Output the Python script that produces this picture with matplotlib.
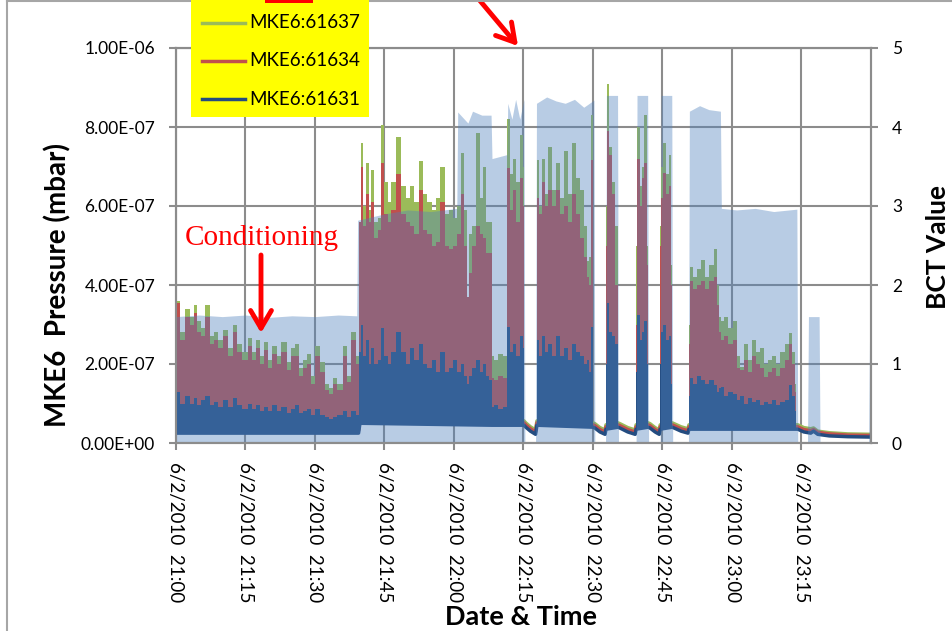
import numpy as np
import matplotlib
matplotlib.use('Agg')
import matplotlib.pyplot as plt
from matplotlib.patches import Rectangle
from matplotlib.lines import Line2D

plt.rcParams['font.family'] = ['Lato', 'DejaVu Sans']

W, H = 953, 631

# minutes after 21:00 ; pressure in units of 1e-7 mbar ; nan = break between bursts
nan = np.nan
t = [0.2, 0.4, 1.5, 2.6, 3.5, 4.1, 5.0, 5.8, 6.9, 7.8,
     8.6, 9.7, 10.8, 11.7, 12.7, 13.8, 14.9, 16.0, 16.8, 17.7,
     18.6, 19.4, 20.3, 21.2, 22.2, 23.3, 24.4, 25.3, 26.1, 27.0,
     27.8, 28.7, 29.6, 30.6, 31.7, 32.6, 33.5, 34.3, 35.4, 36.5,
     37.3, 38.4, 39.4, 39.7, 40.1, 40.8, 41.2, 41.9, 42.3, 43.2,
     44.0, 44.7, 45.3, 46.2, 46.8, 48.1, 49.0, 50.1, 50.9, 51.8,
     52.9, 53.7, 54.8, 55.7, 56.6, 57.4, 58.5, 59.4, 60.2, 61.3,
     61.9, 62.6, 63.0, 63.5, 64.3, 65.2, 66.0, 66.5, 67.3, 68.0,
     68.2, 69.0, 70.0, 71.2, 71.7, 72.5, 73.0, 73.8, 74.7, 75.1,
     nan,
     77.9, 78.6, 79.2, 79.9, 80.7, 81.6, 82.5, 83.3, 84.2, 85.0,
     85.9, 86.8, 87.6, 88.5, 88.9, 89.4, 89.8, 90.0,
     nan,
     92.8, 93.2, 93.9, 94.5, 95.2, 95.4,
     nan,
     99.3, 99.7, 100.4, 100.8, 101.4, 101.9,
     nan,
     104.5, 104.9, 105.3, 106.0, 106.6, 107.1,
     nan,
     110.7, 111.2, 112.0, 112.9, 113.8, 114.6, 115.5, 116.6, 117.0, 117.4,
     117.8, 118.7, 119.6, 120.7, 121.3, 122.2, 123.0, 123.9, 124.8, 125.6,
     126.5, 127.3, 128.2, 129.1, 129.9, 130.8, 131.9, 132.5, 133.4, 133.8]

green = [3.0, 3.6, 2.8, 3.4, 3.2, 3.5, 3.1, 2.9, 3.5, 2.7,
         2.8, 2.6, 2.85, 2.4, 3.0, 2.5, 2.3, 2.65, 2.3, 2.6,
         2.2, 2.55, 2.1, 2.45, 2.2, 2.55, 2.05, 2.4, 2.5, 1.9,
         2.1, 2.25, 1.7, 2.45, 2.05, 1.5, 1.4, 1.65, 1.5, 2.45,
         1.7, 2.8, 2.2, 5.6, 7.6, 6.0, 7.1, 5.9, 6.9, 5.6,
         5.7, 8.05, 6.6, 6.1, 6.6, 7.75, 6.5, 6.2, 6.5, 6.1,
         7.15, 6.3, 6.1, 5.9, 6.2, 7.0, 5.8, 5.9, 5.7, 6.0,
         7.35, 5.9, 3.7, 5.3, 5.5, 7.85, 6.2, 7.0, 5.6, 5.6,
         2.2, 2.1, 2.25, 2.2, 8.2, 6.8, 7.2, 6.6, 7.8, 7.0,
         nan,
         7.16, 6.0, 7.2, 6.3, 7.5, 6.4, 7.1, 6.2, 7.4, 6.3,
         7.6, 6.7, 6.4, 5.5, 4.6, 4.7, 8.3, 6.0,
         nan,
         6.0, 9.1, 7.5, 6.6, 5.5, 4.5,
         nan,
         5.0, 8.0, 6.5, 7.0, 8.3, 5.0,
         nan,
         5.5, 7.0, 7.6, 6.8, 7.3, 4.5,
         nan,
         3.0, 4.46, 4.2, 4.4, 4.63, 4.2, 4.5, 4.9, 4.0, 3.2,
         3.1, 3.2, 2.9, 3.1, 2.2, 1.93, 2.5, 2.1, 2.6, 2.3,
         2.4, 2.0, 2.1, 2.2, 2.0, 2.3, 2.5, 2.78, 2.3, 1.5]

red = [2.9, 3.55, 2.6, 3.2, 3.0, 3.3, 2.8, 2.7, 3.2, 2.5,
       2.6, 2.4, 2.7, 2.2, 2.8, 2.3, 2.1, 2.45, 2.1, 2.4,
       2.0, 2.35, 1.9, 2.25, 2.0, 2.3, 1.85, 2.2, 2.2, 1.7,
       1.9, 2.0, 1.5, 2.2, 1.8, 1.35, 1.25, 1.5, 1.35, 2.2,
       1.55, 2.6, 2.0, 5.6, 7.0, 5.5, 6.3, 5.6, 6.1, 5.2,
       5.4, 7.1, 5.8, 5.6, 5.9, 6.8, 5.8, 5.6, 5.5, 5.3,
       6.4, 5.4, 5.3, 5.0, 5.1, 6.1, 5.0, 4.9, 5.0, 5.3,
       6.3, 5.0, 3.7, 4.3, 5.0, 5.5, 5.3, 5.2, 4.8, 4.8,
       1.65, 1.6, 1.7, 1.65, 6.96, 5.9, 6.4, 5.6, 6.7, 6.0,
       nan,
       6.2, 5.8, 6.6, 6.0, 6.4, 6.0, 6.4, 5.8, 6.0, 5.6,
       6.3, 5.8, 5.2, 4.7, 4.2, 4.0, 7.16, 5.0,
       nan,
       5.0, 7.9, 7.3, 6.3, 4.0, 3.5,
       nan,
       3.0, 7.2, 6.0, 6.7, 7.1, 4.5,
       nan,
       5.0, 6.2, 6.84, 6.3, 6.5, 4.0,
       nan,
       2.5, 4.1, 3.9, 4.0, 4.1, 3.9, 4.1, 4.2, 3.5, 2.8,
       2.6, 2.7, 2.5, 2.6, 1.9, 1.85, 2.1, 1.8, 2.2, 2.0,
       1.9, 1.67, 1.8, 1.9, 1.7, 1.9, 2.1, 2.5, 2.0, 1.3]

blue = [1.0, 1.29, 1.0, 1.2, 1.0, 1.15, 0.95, 1.1, 1.2, 0.95,
        1.05, 0.9, 1.1, 0.9, 1.15, 0.95, 0.85, 1.0, 0.85, 0.95,
        0.8, 0.9, 0.8, 0.95, 0.8, 0.9, 0.75, 0.85, 0.95, 0.75,
        0.8, 0.85, 0.7, 0.85, 0.7, 0.65, 0.6, 0.65, 0.7, 0.8,
        0.65, 0.8, 0.7, 2.3, 3.0, 2.2, 2.6, 2.0, 2.4, 2.0,
        2.1, 2.9, 2.2, 2.0, 2.3, 2.8, 2.3, 2.0, 2.4, 2.1,
        2.5, 2.0, 1.9, 2.1, 1.8, 2.3, 1.8, 1.9, 2.1, 1.8,
        2.0, 1.7, 1.5, 1.7, 1.9, 2.1, 1.8, 2.0, 1.7, 1.6,
        0.9, 0.95, 0.85, 0.9, 2.94, 2.3, 2.5, 2.2, 2.7, 2.4,
        nan,
        2.6, 2.2, 2.7, 2.3, 2.5, 2.2, 2.7, 2.2, 2.4, 2.1,
        2.5, 2.3, 2.2, 2.0, 2.1, 1.8, 2.94, 2.0,
        nan,
        2.0, 3.54, 2.8, 2.7, 2.5, 1.5,
        nan,
        1.8, 3.24, 2.6, 2.8, 3.1, 2.0,
        nan,
        2.0, 2.8, 3.0, 2.6, 2.7, 1.5,
        nan,
        1.2, 1.64, 1.5, 1.7, 1.6, 1.5, 1.6, 1.48, 1.3, 1.4,
        1.42, 1.2, 1.3, 1.25, 1.1, 1.2, 1.0, 1.15, 1.05, 1.1,
        0.95, 1.05, 1.0, 1.1, 0.95, 1.05, 1.1, 1.48, 1.2, 0.8]

# low level of each gauge (between beam bursts the lines sit here)
base_t = [0, 39.4, 39.7, 68.2, 71.2, 75.1, 75.5, 76.5, 77.6, 77.9,
          90.0, 90.4, 91.5, 92.6, 92.8, 95.4, 95.8, 97.5, 99.1, 99.3,
          101.9, 102.3, 103.4, 104.3, 104.5, 107.1, 107.5, 109.0, 110.5, 110.7,
          133.8, 134.2, 135.5, 137.0, 137.6, 138.5, 141.0, 145.0, 150.0]
base_blue = [0.25, 0.25, 0.5, 0.45, 0.45, 0.45, 0.4, 0.3, 0.22, 0.45,
             0.4, 0.38, 0.28, 0.22, 0.35, 0.4, 0.38, 0.28, 0.22, 0.35,
             0.4, 0.38, 0.28, 0.22, 0.35, 0.4, 0.38, 0.3, 0.25, 0.35,
             0.35, 0.35, 0.28, 0.25, 0.3, 0.22, 0.18, 0.16, 0.15]
base_red = [0.31, 0.31, 0.56, 0.51, 0.51, 0.51, 0.46, 0.36, 0.28, 0.51,
            0.46, 0.44, 0.34, 0.28, 0.41, 0.46, 0.44, 0.34, 0.28, 0.41,
            0.46, 0.44, 0.34, 0.28, 0.41, 0.46, 0.44, 0.36, 0.31, 0.41,
            0.41, 0.41, 0.34, 0.31, 0.34, 0.27, 0.23, 0.2, 0.19]
base_green = [0.36, 0.36, 0.61, 0.56, 0.56, 0.56, 0.51, 0.41, 0.33, 0.56,
              0.51, 0.49, 0.39, 0.33, 0.46, 0.51, 0.49, 0.39, 0.33, 0.46,
              0.51, 0.49, 0.39, 0.33, 0.46, 0.51, 0.49, 0.41, 0.36, 0.46,
              0.46, 0.46, 0.39, 0.36, 0.38, 0.3, 0.26, 0.23, 0.22]

# beam current transformer value (right axis)
bct_t = [0.0, 5.0, 10.0, 15.0, 20.0, 25.0, 30.0, 35.0, 39.0,
         39.2, 45.0, 50.0, 55.0, 60.6,
         60.8, 63.0, 64.0, 66.0, 68.0,
         68.2, 71.4,
         71.6, 72.5, 73.3, 74.2, 75.1,
         75.3, 77.6,
         77.8, 80.0, 82.0, 84.0, 86.0, 88.0, 90.2,
         90.4, 92.7,
         92.9, 95.3,
         95.5, 99.3,
         99.5, 101.8,
         102.0, 104.5,
         104.7, 107.0,
         107.2, 110.6,
         110.8, 113.0, 115.0, 117.5,
         117.7, 121.0, 125.0, 129.0, 134.0,
         134.2, 136.3,
         136.5, 138.8,
         139.0, 149.5,
         149.7, 150.0]
bct_v = [1.6, 1.62, 1.6, 1.62, 1.59, 1.61, 1.6, 1.62, 1.61,
         2.82, 2.9, 2.95, 2.93, 2.97,
         4.19, 4.05, 4.2, 4.15, 4.15,
         3.6, 3.65,
         4.3, 4.1, 4.35, 4.1, 4.35,
         0.0, 0.0,
         4.3, 4.38, 4.33, 4.3, 4.35, 4.25, 4.34,
         0.0, 0.0,
         4.4, 4.4,
         0.0, 0.0,
         4.4, 4.4,
         0.0, 0.0,
         4.4, 4.4,
         0.0, 0.0,
         4.2, 4.27, 4.22, 4.2,
         2.97, 2.95, 2.97, 2.93, 2.96,
         0.0, 0.0,
         1.6, 1.6,
         0.0, 0.0,
         1.47, 1.47]

xticks = [0, 15, 30, 45, 60, 75, 90, 105, 120, 135]
xlabels = ['6/2/2010  21:00', '6/2/2010  21:15', '6/2/2010  21:30', '6/2/2010  21:45',
           '6/2/2010  22:00', '6/2/2010  22:15', '6/2/2010  22:30', '6/2/2010  22:45',
           '6/2/2010  23:00', '6/2/2010  23:15']
yticks = [0, 2, 4, 6, 8, 10]
ylabels = ['0.00E+00', '2.00E-07', '4.00E-07', '6.00E-07', '8.00E-07', '1.00E-06']
bct_ticks = [0, 1, 2, 3, 4, 5]
names = ['MKE6:61637', 'MKE6:61634', 'MKE6:61631']

GRID = '#8c8c8c'
cols = ['#9bbb59', '#c0504d', '#244c80']


def fx(px):
    return px / W


def fy(py):
    return 1 - py / H


fig = plt.figure(figsize=(W / 100, H / 100), dpi=100)
fig.patch.set_facecolor('white')
ax = fig.add_axes([fx(176), fy(443), (871 - 176) / W, (443 - 48) / H])
ax.set_axisbelow(True)
ax.grid(True, color=GRID, lw=1.5)

# pressure gauges
tt = np.array(t)
for vals, base, c, z in [(green, base_green, cols[0], 2),
                         (red, base_red, cols[1], 3),
                         (blue, base_blue, cols[2], 4)]:
    ax.plot(base_t, base, color=c, lw=2.5, zorder=z, solid_capstyle='butt')
    lo = np.interp(tt, base_t, base)
    ax.fill_between(tt, lo, np.array(vals), step='mid', color=c, lw=0, zorder=z + 0.2)

ax.set_xlim(0, 150)
ax.set_ylim(0, 10)
ax.set_xticks(xticks)
ax.set_xticklabels(xlabels, rotation=270, ha='center', va='top', fontsize=13.5)
ax.set_yticks(yticks)
ax.set_yticklabels(ylabels, fontsize=12.5)

# BCT drawn over the gauges, semi transparent
ax2 = ax.twinx()
ax2.fill_between(bct_t, 0, bct_v, color='#4f81bd', alpha=0.4, lw=0, zorder=1)
ax2.set_ylim(0, 5)
ax2.set_yticks(bct_ticks)
ax2.set_yticklabels([str(v) for v in bct_ticks], fontsize=12.5)

for a in (ax, ax2):
    for s in a.spines.values():
        s.set_color(GRID)
        s.set_linewidth(1.5)
ax.tick_params(axis='both', direction='out', length=5, width=1.5, color=GRID)
ax.tick_params(axis='y', pad=10)
ax.tick_params(axis='x', pad=9)
ax2.tick_params(axis='y', direction='out', length=5, width=1.5, color=GRID, pad=10)

# axis titles
fig.text(fx(58), fy(285), 'MKE6  Pressure (mbar)', rotation=90, ha='center', va='center',
         fontsize=20, fontweight='bold')
fig.text(fx(938), fy(247), 'BCT Value', rotation=90, ha='center', va='center',
         fontsize=19, fontweight='bold')
fig.text(fx(521), fy(617), 'Date & Time', ha='center', va='center',
         fontsize=19.5, fontweight='bold')

# legend box
fig.patches.append(Rectangle((fx(191), fy(117)), (369 - 191) / W, 117 / H + 0.01,
                             transform=fig.transFigure, facecolor='#ffff00', edgecolor='none',
                             zorder=5))
for i, (nm, c) in enumerate(zip(names, cols)):
    yy = fy(22.7 + 38.3 * i)
    fig.lines.append(Line2D([fx(202), fx(245)], [yy, yy], transform=fig.transFigure,
                            color=c, lw=2.5, zorder=6))
    fig.text(fx(249), yy, nm, ha='left', va='center', fontsize=13.5, zorder=6)

# red marks
fig.patches.append(Rectangle((fx(265), fy(3)), 48 / W, 3 / H + 0.01, transform=fig.transFigure,
                             facecolor='#ff0000', edgecolor='none', zorder=5))
arrow = dict(arrowstyle='->,head_length=0.85,head_width=0.5', color='#ff0000', lw=3.5,
             mutation_scale=15, shrinkA=0, shrinkB=0)
ax2.annotate('', xy=(fx(518), fy(46)), xycoords='figure fraction',
             xytext=(fx(476), fy(-4)), textcoords='figure fraction',
             arrowprops=arrow, annotation_clip=False)
ax2.annotate('', xy=(fx(261), fy(333)), xycoords='figure fraction',
             xytext=(fx(261), fy(255)), textcoords='figure fraction',
             arrowprops=arrow, annotation_clip=False)
fig.text(fx(261.5), fy(245), 'Conditioning', ha='center', va='baseline', color='#ff0000',
         fontsize=21, family='Liberation Serif')

# outer frame of the chart
fig.lines.append(Line2D([fx(7), fx(7)], [0, fy(1)], transform=fig.transFigure, color='#a6a6a6', lw=1.5))
fig.lines.append(Line2D([fx(7), 1], [fy(1), fy(1)], transform=fig.transFigure, color='#a6a6a6', lw=1.5))

fig.savefig('out.png', dpi=100)
